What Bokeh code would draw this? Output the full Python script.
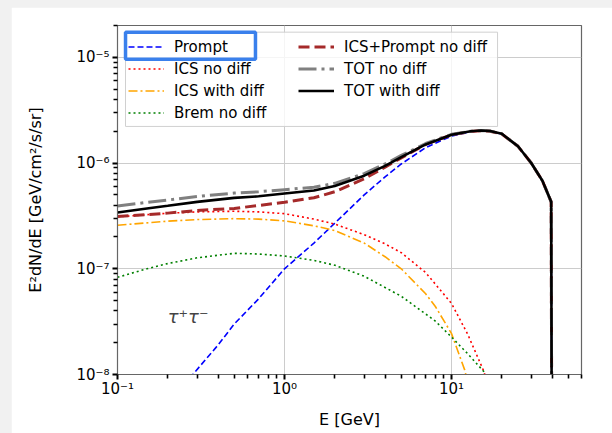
from bokeh.plotting import figure
from bokeh.models import (Range1d, FixedTicker, CustomJSTickFormatter, Legend,
                          LegendItem, Label, BoxAnnotation)
from bokeh.layouts import column
from bokeh.embed import file_html
from bokeh.resources import INLINE

# Gamma-ray spectrum components for tau+ tau- annihilation, E^2 dN/dE [GeV/cm^2/s/sr]
energy_prompt = [0.25, 0.29, 0.4, 0.5, 0.7, 1.0, 1.5, 2.0, 3.0, 4.0, 5.0, 7.0,
                 10, 13, 15, 17, 20, 25, 30, 35, 39.5, 40.3]
prompt = [7.9e-9, 1.05e-8, 1.9e-8, 3.0e-8, 5.2e-8, 1.0e-7, 1.75e-7, 2.7e-7, 5.0e-7,
          7.4e-7, 9.8e-7, 1.4e-6, 1.8e-6, 1.98e-6, 2.02e-6, 2.0e-6, 1.88e-6,
          1.44e-6, 1.0e-6, 6.8e-7, 4.3e-7, 1e-12]

energy_ics_nodiff = [0.1, 0.15, 0.2, 0.3, 0.5, 0.7, 1.0, 1.5, 2.0, 3.0, 4.0, 5.0,
                     7.0, 10, 12.5, 15.5, 18]
ics_nodiff = [3.1e-7, 3.25e-7, 3.35e-7, 3.45e-7, 3.5e-7, 3.45e-7, 3.32e-7, 2.95e-7,
              2.65e-7, 2.1e-7, 1.72e-7, 1.42e-7, 9.2e-8, 4.7e-8, 2.4e-8, 1.1e-8, 5.5e-9]

energy_ics_diff = [0.1, 0.15, 0.2, 0.3, 0.5, 0.7, 1.0, 1.5, 2.0, 3.0, 4.0, 5.0,
                   7.0, 8.0, 10, 12, 13]
ics_diff = [2.58e-7, 2.72e-7, 2.82e-7, 2.92e-7, 2.98e-7, 2.95e-7, 2.84e-7, 2.55e-7,
            2.3e-7, 1.75e-7, 1.3e-7, 1.0e-7, 5.8e-8, 4.4e-8, 2.44e-8, 1.1e-8, 6.5e-9]

energy_brem = [0.1, 0.15, 0.2, 0.3, 0.5, 0.7, 1.0, 1.5, 2.0, 3.0, 5.0, 8.0, 10,
               12.5, 15.5, 18]
brem_nodiff = [8.3e-8, 1.0e-7, 1.12e-7, 1.27e-7, 1.4e-7, 1.38e-7, 1.32e-7, 1.2e-7,
               1.08e-7, 8.5e-8, 5.5e-8, 3.2e-8, 2.26e-8, 1.57e-8, 1.08e-8, 7.5e-9]

energy_total = [0.1, 0.15, 0.2, 0.3, 0.5, 0.7, 1.0, 1.5, 2.0, 3.0, 4.0, 5.0, 7.0,
                10, 13, 15, 17, 20, 25, 30, 35, 39.5, 40.3]
ics_prompt_nodiff = [3.12e-7, 3.25e-7, 3.36e-7, 3.56e-7, 3.72e-7, 3.97e-7, 4.25e-7,
                     4.7e-7, 5.35e-7, 7.1e-7, 9.15e-7, 1.12e-6, 1.5e-6, 1.85e-6,
                     1.99e-6, 2.02e-6, 2.0e-6, 1.88e-6, 1.44e-6, 1.0e-6, 6.8e-7,
                     4.3e-7, 1e-12]
tot_nodiff = [3.93e-7, 4.25e-7, 4.47e-7, 4.82e-7, 5.2e-7, 5.35e-7, 5.6e-7, 5.9e-7,
              6.43e-7, 7.95e-7, 9.8e-7, 1.18e-6, 1.53e-6, 1.87e-6, 2.0e-6, 2.03e-6,
              2.01e-6, 1.89e-6, 1.44e-6, 1.0e-6, 6.8e-7, 4.3e-7, 1e-12]
tot_diff = [3.41e-7, 3.72e-7, 3.94e-7, 4.29e-7, 4.68e-7, 4.85e-7, 5.16e-7, 5.5e-7,
            6.08e-7, 7.6e-7, 9.4e-7, 1.14e-6, 1.5e-6, 1.85e-6, 2.0e-6, 2.03e-6,
            2.01e-6, 1.89e-6, 1.44e-6, 1.0e-6, 6.8e-7, 4.3e-7, 1e-12]

x_major = [0.1, 1, 10]
y_major = [1e-8, 1e-7, 1e-6, 1e-5]

FONT = "DejaVu Sans"

p = figure(width=601, height=426, x_axis_type="log", y_axis_type="log",
           x_range=Range1d(0.1, 60), y_range=Range1d(1e-8, 2e-5),
           output_backend="svg", toolbar_location=None,
           min_border_left=106, min_border_right=31,
           min_border_top=18, min_border_bottom=59,
           x_axis_label="E [GeV]", y_axis_label="E\u00b2dN/dE [GeV/cm\u00b2/s/sr]")
p.background_fill_color = "white"
p.border_fill_color = "white"
p.outline_line_color = "#666666"
p.outline_line_width = 1.2

x_minor = [m * 10 ** d for d in (-1, 0, 1) for m in range(2, 10) if m * 10 ** d <= 60]
y_minor = [m * 10 ** d for d in (-8, -7, -6, -5) for m in range(2, 10) if m * 10 ** d <= 2e-5]
p.xaxis.ticker = FixedTicker(ticks=x_major, minor_ticks=x_minor)
p.yaxis.ticker = FixedTicker(ticks=y_major, minor_ticks=y_minor)

pow_fmt = CustomJSTickFormatter(code="""
const sup = {'-': '\u207b', '0': '\u2070', '1': '\u00b9', '2': '\u00b2', '3': '\u00b3',
             '4': '\u2074', '5': '\u2075', '6': '\u2076', '7': '\u2077', '8': '\u2078', '9': '\u2079'};
const e = Math.round(Math.log10(tick));
return '10' + String(e).split('').map(c => sup[c]).join('');
""")
for ax in (p.xaxis[0], p.yaxis[0]):
    ax.formatter = pow_fmt
    ax.axis_line_color = "#666666"
    ax.major_tick_line_color = "black"
    ax.minor_tick_line_color = "black"
    ax.major_tick_line_width = 2
    ax.minor_tick_line_width = 1.6
    ax.major_tick_out = 5
    ax.major_tick_in = 0
    ax.minor_tick_out = 4
    ax.minor_tick_in = 0
    ax.major_label_text_font = FONT
    ax.major_label_text_font_size = "15px"
    ax.major_label_text_color = "black"
    ax.axis_label_text_font = FONT
    ax.axis_label_text_font_size = "16px"
    ax.axis_label_text_font_style = "normal"
    ax.axis_label_text_color = "black"
p.xaxis.major_label_standoff = 0
p.yaxis.major_label_standoff = 3
p.xaxis.axis_label_standoff = 9
p.yaxis.axis_label_standoff = 28

p.xgrid.grid_line_color = "#cccccc"
p.ygrid.grid_line_color = "#cccccc"
p.xgrid.ticker = FixedTicker(ticks=x_major)
p.ygrid.ticker = FixedTicker(ticks=y_major)

r_prompt = p.line(energy_prompt, prompt, line_color="#0000ff", line_width=1.6,
                  line_dash="6 3")
r_ics = p.line(energy_ics_nodiff, ics_nodiff, line_color="#ff0000", line_width=1.6,
               line_dash="2 3")
r_icsd = p.line(energy_ics_diff, ics_diff, line_color="#ffa500", line_width=1.6,
                line_dash="9 3 2 3")
r_brem = p.line(energy_brem, brem_nodiff, line_color="#008000", line_width=1.6,
                line_dash="2 3")
r_icsp = p.line(energy_total, ics_prompt_nodiff, line_color="#a52a2a", line_width=3,
                line_dash="11 5")
r_totn = p.line(energy_total, tot_nodiff, line_color="#808080", line_width=3,
                line_dash="18 5 3 5")
r_totd = p.line(energy_total, tot_diff, line_color="black", line_width=2.6)

# translucent legend panel, drawn beneath the legend entries
legend_panel = BoxAnnotation(left=0.1117, right=18.86, bottom=2.22e-6, top=1.73e-5,
                             fill_color="white", fill_alpha=0.8,
                             line_color="#d0d0d0", line_alpha=1.0, line_width=1)
p.add_layout(legend_panel)

legend = Legend(items=[
    LegendItem(label="Prompt", renderers=[r_prompt]),
    LegendItem(label="ICS no diff", renderers=[r_ics]),
    LegendItem(label="ICS with diff", renderers=[r_icsd]),
    LegendItem(label="Brem no diff", renderers=[r_brem]),
    LegendItem(label="ICS+Prompt no diff", renderers=[r_icsp]),
    LegendItem(label="TOT no diff", renderers=[r_totn]),
    LegendItem(label="TOT with diff", renderers=[r_totd]),
], location="top_left", ncols=2)
legend.margin = 8
legend.padding = 3
legend.spacing = 1
legend.glyph_width = 36
legend.glyph_height = 21
legend.label_height = 21
legend.label_width = 123
legend.label_standoff = 10
legend.label_text_font = FONT
legend.label_text_font_size = "15px"
legend.label_text_color = "black"
legend.background_fill_alpha = 0
legend.border_line_alpha = 0
p.add_layout(legend)

# highlight frame around the first legend entry
highlight = BoxAnnotation(left=0.1117, right=0.670, bottom=9.6e-6, top=1.73e-5,
                          fill_alpha=0, line_color="#3a80ec", line_alpha=1.0,
                          line_width=3.5, level="overlay")
p.add_layout(highlight)

p.add_layout(Label(x=0.2, y=3.5e-8, text="\u03c4\u207a\u03c4\u207b", text_font=FONT,
                   text_font_size="18px", text_font_style="italic",
                   text_baseline="middle", text_align="left"))

page = column(p, styles={"background-color": "#f1f1f1",
                         "padding": "7px 0px 0px 11px"})

open("out.html", "w").write(file_html(page, INLINE))
